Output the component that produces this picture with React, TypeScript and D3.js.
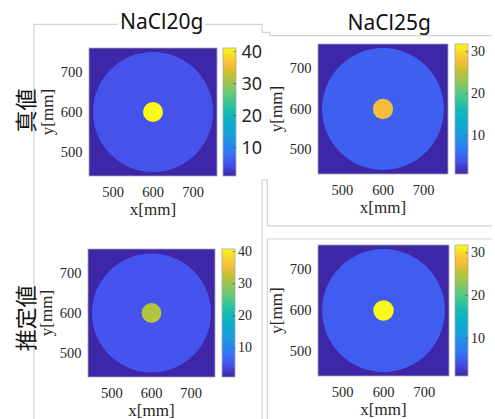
import React from 'react';
import * as d3 from 'd3';

// panel order: 20g true, 25g true, 20g estimated, 25g estimated
const titles = ["NaCl20g", "NaCl25g"];
const rowLabels = ["真値", "推定値"];
const colorMin = [1.1, 0.95, 0.9, 1.2];
const colorMax = [41.1, 31.8, 40.85, 31.8];
const backgroundValue = [1.1, 0.95, 0.9, 1.2];
const tankValue = [5, 5, 5, 5];
const inclusionValue = [41.1, 27.5, 31.5, 31.8];
const tankCenter = [600, 600];
const tankRadius = 150;
const inclusionRadius = 25;
const axisDomain = [440, 760];
const axisTicks = [500, 600, 700];
const colorTicks = [[10, 20, 30, 40], [10, 20, 30], [10, 20, 30, 40], [10, 20, 30]];

const parula = ["#3e26a8", "#4653ee", "#2c7ef6", "#1d98e0", "#0aacce", "#13bbb4",
    "#48c98b", "#8cc660", "#c8c12f", "#fbbc3d", "#f6d52c", "#f9fb15"];
const parulaPos = [0, 0.1, 0.2, 0.3, 0.4, 0.5, 0.6, 0.7, 0.8, 0.87, 0.93, 1];
const cmap = d3.scaleLinear<string>().domain(parulaPos).range(parula).interpolate(d3.interpolateRgb).clamp(true);

const layout = [
    {x0: 89, x1: 217, y0: 48, y1: 176, cb: 223, cbSans: true},
    {x0: 318, x1: 448, y0: 44, y1: 174, cb: 455, cbSans: false},
    {x0: 88, x1: 215, y0: 249, y1: 377, cb: 222, cbSans: false},
    {x0: 318, x1: 449, y0: 245, y1: 376, cb: 455, cbSans: false},
];

const SANS = '"Noto Sans", "Open Sans", sans-serif';
const SERIF = '"Liberation Serif", "DejaVu Serif", serif';
const CJK = '"Noto Sans CJK JP", sans-serif';

const Panel = ({i}: {i: number}) => {
    const L = layout[i];
    const x = d3.scaleLinear().domain(axisDomain).range([L.x0, L.x1]);
    const y = d3.scaleLinear().domain(axisDomain).range([L.y1, L.y0]);
    const c = d3.scaleLinear().domain([colorMin[i], colorMax[i]]).range([L.y1, L.y0]);
    const col = (v: number) => cmap((v - colorMin[i]) / (colorMax[i] - colorMin[i]));
    const gradId = `grad${i}`;
    const stops = d3.range(0, 1.0001, 0.02);
    const cbw = 13;
    return (
        <g>
            <defs>
                <linearGradient id={gradId} x1="0" y1="1" x2="0" y2="0">
                    {stops.map(s => <stop key={s} offset={s} stopColor={cmap(s)}/>)}
                </linearGradient>
            </defs>
            <rect x={L.x0} y={L.y0} width={L.x1 - L.x0} height={L.y1 - L.y0} fill={col(backgroundValue[i])}/>
            <circle cx={x(tankCenter[0])} cy={y(tankCenter[1])} r={x(tankCenter[0] + tankRadius) - x(tankCenter[0])}
                    fill={col(tankValue[i])}/>
            <circle cx={x(tankCenter[0])} cy={y(tankCenter[1])} r={x(tankCenter[0] + inclusionRadius) - x(tankCenter[0])}
                    fill={col(inclusionValue[i])}/>
            <rect x={L.x0} y={L.y0} width={L.x1 - L.x0} height={L.y1 - L.y0} fill="none" stroke="#a8a8a8" strokeWidth={0.8}/>
            {axisTicks.map(t => (
                <text key={"y" + t} x={L.x0 - 6.5} y={y(t)} dy="0.33em" textAnchor="end"
                      fontFamily={SERIF} fontSize={14.5} fill="#262626">{t}</text>
            ))}
            {axisTicks.map(t => (
                <text key={"x" + t} x={x(t)} y={L.y1 + 20.7} textAnchor="middle"
                      fontFamily={SERIF} fontSize={14.5} fill="#262626">{t}</text>
            ))}
            <text x={(L.x0 + L.x1) / 2} y={L.y1 + 39} textAnchor="middle" fontFamily={SERIF} fontSize={17}
                  fill="#262626">x[mm]</text>
            <text transform={`translate(${L.x0 - 36.5},${(L.y0 + L.y1) / 2}) rotate(-90)`} textAnchor="middle"
                  fontFamily={SERIF} fontSize={17} fill="#262626">y[mm]</text>
            <rect x={L.cb} y={L.y0} width={cbw} height={L.y1 - L.y0} fill={`url(#${gradId})`}
                  stroke="#a8a8a8" strokeWidth={0.8}/>
            {colorTicks[i].map(t => (
                <g key={"c" + t}>
                    <line x1={L.cb + cbw - 2.5} x2={L.cb + cbw} y1={c(t)} y2={c(t)} stroke="#444" strokeWidth={0.6}/>
                    {L.cbSans
                        ? <text x={L.cb + cbw + 5.5} y={c(t)} dy="0.36em" fontFamily={SANS} fontSize={18}
                                fill="#262626">{t}</text>
                        : <text x={L.cb + cbw + 3} y={c(t)} dy="0.33em" fontFamily={SERIF} fontSize={14}
                                fill="#262626">{t}</text>}
                </g>
            ))}
        </g>
    );
};

const App = () => {
    const frame = "#d2d2d2";
    return (
        <svg width={495} height={419} style={{position: 'absolute', left: 0, top: 0, background: '#fff'}}>
            <polyline points="34,419 34,24.3 262,24.3 262,32.3 270,32.3 270,35.7 492,35.7" fill="none"
                      stroke={frame} strokeWidth={1.2}/>
            <polyline points="262,419 262,180 267.3,180 267.3,225.8 492,225.8" fill="none" stroke={frame}
                      strokeWidth={1.2}/>
            <polyline points="267.3,419 267.3,239 492,239" fill="none" stroke={frame} strokeWidth={1.2}/>
            {[0, 1, 2, 3].map(i => <Panel key={i} i={i}/>)}
            <rect x={118} y={18} width={87} height={12} fill="#fff"/>
            <text x={161.7} y={29.3} textAnchor="middle" fontFamily={SANS} fontSize={21} fill="#111">{titles[0]}</text>
            <text x={389.2} y={30} textAnchor="middle" fontFamily={SANS} fontSize={21} fill="#111">{titles[1]}</text>
            <text transform="translate(24,110.5) rotate(-90)" textAnchor="middle" dominantBaseline="central"
                  fontFamily={CJK} fontSize={22} fill="#111">{rowLabels[0]}</text>
            <text transform="translate(24,318.3) rotate(-90)" textAnchor="middle" dominantBaseline="central"
                  fontFamily={CJK} fontSize={22} fill="#111">{rowLabels[1]}</text>
        </svg>
    );
};

export default App;
